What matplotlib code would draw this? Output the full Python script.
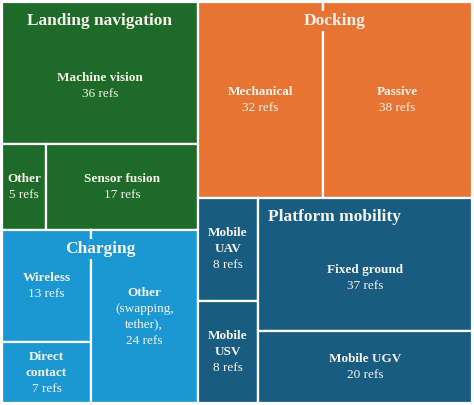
import matplotlib
matplotlib.use("Agg")
import matplotlib.pyplot as plt
from matplotlib.patches import Rectangle

# leaf data
names = ["Machine vision", "Other", "Sensor fusion",
         "Mechanical", "Passive",
         "Wireless", "Direct\ncontact", "Other",
         "Mobile\nUAV", "Mobile\nUSV", "Fixed ground", "Mobile UGV"]
notes = ["", "", "", "", "", "", "", "(swapping,\ntether),", "", "", "", ""]
refs = [36, 5, 17, 32, 38, 13, 7, 24, 8, 8, 37, 20]
group_of = [0, 0, 0, 1, 1, 2, 2, 2, 3, 3, 3, 3]

groups = ["Landing navigation", "Docking", "Charging", "Platform mobility"]
group_colors = ["#1d6a29", "#e87434", "#1b98d4", "#195c82"]

# how the rectangles are sliced ('h' = side by side, 'v' = stacked)
tree = ('h', [('v', [('v', [0, ('h', [1, 2])]),
                     ('h', [('v', [5, 6]), 7])]),
              ('v', [('h', [3, 4]),
                     ('h', [('v', [8, 9]), ('v', [10, 11])])])])

W, H = 474, 405
TXT = "#f6f3ea"
FONT = "Liberation Serif"


def total(node):
    if isinstance(node, int):
        return refs[node]
    return sum(total(k) for k in node[1])


def layout(node, x, y, w, h, out):
    if isinstance(node, int):
        out[node] = (x, y, w, h)
        return
    direction, kids = node
    t = total(node)
    for k in kids:
        f = total(k) / t
        if direction == 'h':
            layout(k, x, y, w * f, h, out)
            x += w * f
        else:
            layout(k, x, y, w, h * f, out)
            y += h * f


rects = {}
layout(tree, 2, 2, W - 4, H - 4, rects)

fig = plt.figure(figsize=(W / 100, H / 100), dpi=100)
ax = fig.add_axes([0, 0, 1, 1])
ax.set_xlim(0, W)
ax.set_ylim(H, 0)
ax.axis("off")

for i, (x, y, w, h) in rects.items():
    ax.add_patch(Rectangle((x, y), w, h, facecolor=group_colors[group_of[i]],
                           edgecolor="white", lw=1.6))

# group titles, on top of the leaves
title_box = {}
for g, name in enumerate(groups):
    idx = [i for i in rects if group_of[i] == g]
    x0 = min(rects[i][0] for i in idx)
    x1 = max(rects[i][0] + rects[i][2] for i in idx)
    y0 = min(rects[i][1] for i in idx)
    t = ax.text((x0 + x1) / 2, y0 + 19, name, ha="center", va="center",
                color=TXT, fontsize=12.5, fontweight="bold", family=FONT,
                bbox=dict(facecolor=group_colors[g], edgecolor="none", pad=1.5),
                zorder=5)
    title_box[g] = t

fig.canvas.draw()
inv = ax.transData.inverted()
title_ext = {}
for g, t in title_box.items():
    bb = t.get_window_extent()
    (a, b), (c, d) = inv.transform([(bb.x0, bb.y0), (bb.x1, bb.y1)])
    title_ext[g] = (min(a, c), max(a, c), max(b, d))

for i, (x, y, w, h) in rects.items():
    lines = [(s, "bold") for s in names[i].split("\n")]
    if notes[i]:
        lines += [(s, "normal") for s in notes[i].split("\n")]
    lines.append((f"{refs[i]} refs", "normal"))
    n = len(lines)
    cx, cy = x + w / 2, y + h / 2
    tx0, tx1, tbot = title_ext[group_of[i]]
    if x <= tx0 and x + w >= tx1 and y < tbot:
        cy = (tbot + y + h) / 2
    for j, (s, wt) in enumerate(lines):
        ax.text(cx, cy + (j - (n - 1) / 2) * 16, s, ha="center", va="center",
                color=TXT, fontsize=9.5, fontweight=wt, family=FONT)

fig.savefig("out.png", dpi=100, facecolor="white")
